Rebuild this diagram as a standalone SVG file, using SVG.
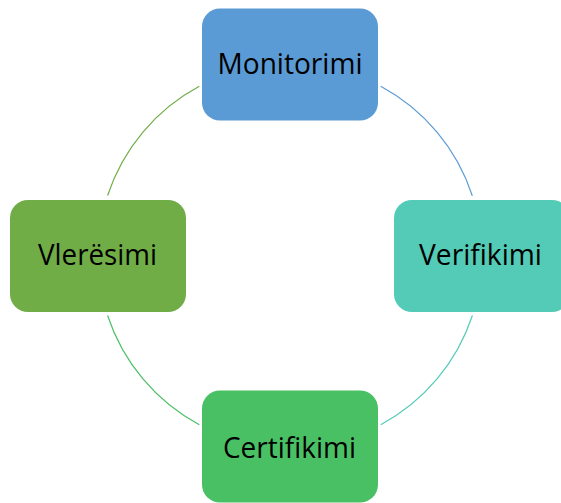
<svg xmlns="http://www.w3.org/2000/svg" width="561" height="503" viewBox="0 0 561 503">
  <style>
    .box { stroke: none; }
    .lbl { font-family: "Open Sans", "Liberation Sans", sans-serif; font-size: 29px; fill: #000000; text-anchor: middle; }
    .arc { fill: none; stroke-width: 1.2; }
  </style>
  <rect width="561" height="503" fill="#ffffff"/>
  <g id="connectors">
    <path class="arc" stroke="#5B9BD5" d="M 380.7 86.3 A 192 192 0 0 1 472.3 195.7"/>
    <path class="arc" stroke="#53CBB7" d="M 472.4 315.5 A 192 192 0 0 1 380.7 424.7"/>
    <path class="arc" stroke="#4AC065" d="M 199.3 424.7 A 192 192 0 0 1 107.6 315.5"/>
    <path class="arc" stroke="#70AD47" d="M 107.6 195.5 A 192 192 0 0 1 199.3 86.3"/>
  </g>
  <g id="monitorimi">
    <rect class="box" x="202" y="8.5" width="176" height="112" rx="18" fill="#5B9BD5"/>
    <text class="lbl" x="290" y="74" textLength="145" lengthAdjust="spacingAndGlyphs">Monitorimi</text>
  </g>
  <g id="verifikimi">
    <rect class="box" x="394" y="200" width="176" height="112" rx="18" fill="#53CBB7"/>
    <text class="lbl" x="480.5" y="265" textLength="123" lengthAdjust="spacingAndGlyphs">Verifikimi</text>
  </g>
  <g id="certifikimi">
    <rect class="box" x="202" y="390.5" width="176" height="112" rx="18" fill="#4AC065"/>
    <text class="lbl" x="289.5" y="458" textLength="133" lengthAdjust="spacingAndGlyphs">Certifikimi</text>
  </g>
  <g id="vleresimi">
    <rect class="box" x="10" y="200" width="176" height="112" rx="18" fill="#70AD47"/>
    <text class="lbl" x="97.5" y="265" textLength="119" lengthAdjust="spacingAndGlyphs">Vlerësimi</text>
  </g>
</svg>
